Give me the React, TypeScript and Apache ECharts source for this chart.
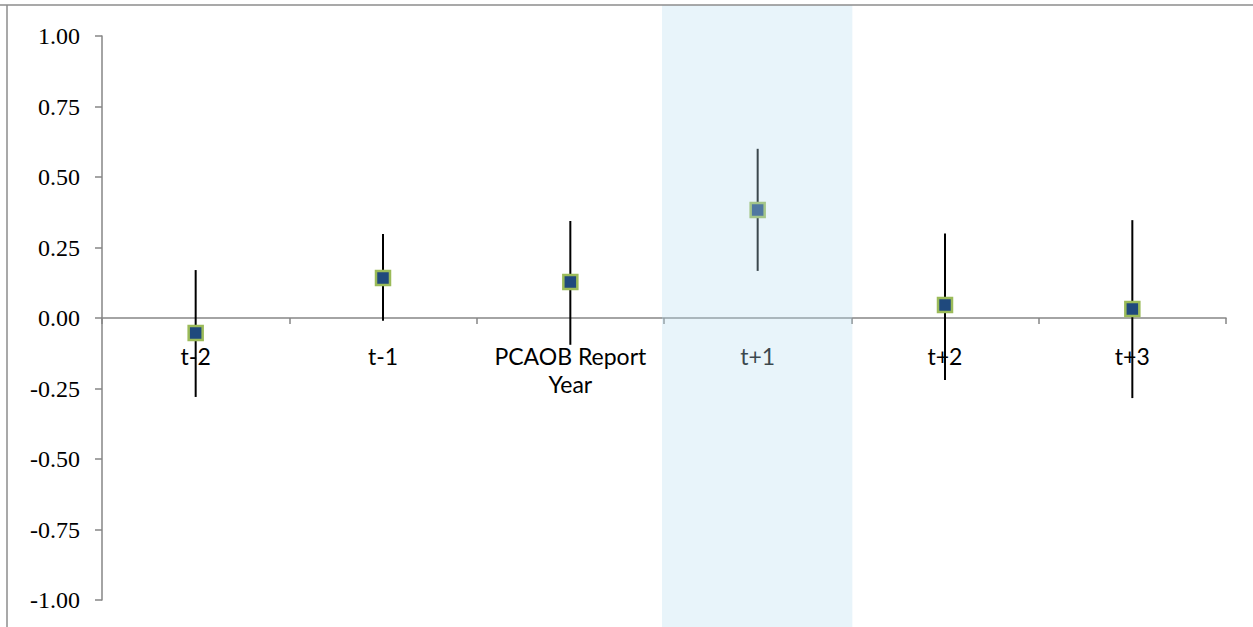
import React, { useEffect, useRef } from "react";
import * as echarts from "echarts";

const categories = ["t-2", "t-1", "PCAOB Report\nYear", "t+1", "t+2", "t+3"];
const pointValues = [-0.053, 0.142, 0.128, 0.383, 0.046, 0.032];
const lowValues = [-0.28, -0.01, -0.095, 0.167, -0.22, -0.284];
const highValues = [0.17, 0.298, 0.344, 0.6, 0.3, 0.347];
const shadedCategoryIndex = 3;

export default function App() {
  const ref = useRef<HTMLDivElement>(null);
  useEffect(() => {
    if (!ref.current) return;
    const chart = echarts.init(ref.current, null, { renderer: "svg" });
    const axisGray = "#868686";
    chart.setOption({
      animation: false,
      grid: { left: 102, right: 27, top: 36, bottom: 27, containLabel: false, outerBoundsMode: "none" },
      xAxis: {
        type: "category",
        data: categories,
        boundaryGap: true,
        axisLine: { onZero: true, lineStyle: { color: axisGray, width: 1.5 } },
        axisTick: { show: true, length: 6, alignWithLabel: false, lineStyle: { color: axisGray, width: 1.5 } },
        axisLabel: { show: false },
        splitLine: { show: false },
      },
      yAxis: {
        type: "value",
        min: -1,
        max: 1,
        interval: 0.25,
        axisLine: { show: true, lineStyle: { color: axisGray, width: 1.5 } },
        axisTick: { show: true, length: 7, lineStyle: { color: axisGray, width: 1.5 } },
        splitLine: { show: false },
        axisLabel: {
          margin: 22,
          color: "#000",
          fontFamily: "Liberation Serif",
          fontSize: 24,
          formatter: (v: number) => v.toFixed(2),
        },
      },
      series: [
        {
          type: "custom",
          z: 1,
          silent: true,
          data: categories.map((_, i) => [i, 0]),
          renderItem: (params: any, api: any) => {
            const p = api.coord([api.value(0), api.value(1)]);
            return {
              type: "text",
              x: p[0],
              y: p[1] + 24,
              style: {
                text: categories[params.dataIndex],
                textAlign: "center",
                textVerticalAlign: "top",
                fill: "#000",
                fontFamily: "Lato",
                fontSize: 23,
                lineHeight: 28,
              },
            };
          },
        },
        {
          type: "custom",
          z: 3,
          data: categories.map((_, i) => [i, lowValues[i], highValues[i]]),
          renderItem: (params: any, api: any) => {
            const p1 = api.coord([api.value(0), api.value(1)]);
            const p2 = api.coord([api.value(0), api.value(2)]);
            return {
              type: "line",
              shape: { x1: p1[0], y1: p1[1], x2: p2[0], y2: p2[1] },
              style: { stroke: "#000", lineWidth: 2 },
            };
          },
        },
        {
          type: "scatter",
          z: 5,
          symbol: "rect",
          symbolSize: 14,
          data: categories.map((_, i) => [i, pointValues[i]]),
          itemStyle: { color: "#1f497d", borderColor: "#9bbb59", borderWidth: 2.5, opacity: 1 },
        },
      ],
    });

    const c0 = chart.convertToPixel({ xAxisIndex: 0 }, shadedCategoryIndex) as number;
    const c1 = chart.convertToPixel({ xAxisIndex: 0 }, shadedCategoryIndex + 1) as number;
    const half = (c1 - c0) / 2;
    chart.setOption({
      graphic: [
        {
          type: "rect",
          z: 100,
          silent: true,
          shape: { x: c0 - half - 2, y: 5, width: 2 * half + 3, height: 627 },
          style: { fill: "rgba(182,220,239,0.32)" },
        },
        {
          type: "line",
          z: 101,
          silent: true,
          shape: { x1: 0, y1: 5, x2: 1253, y2: 5 },
          style: { stroke: "#8c8c8c", lineWidth: 1.5 },
        },
        {
          type: "line",
          z: 101,
          silent: true,
          shape: { x1: 7, y1: 5, x2: 7, y2: 627 },
          style: { stroke: "#8c8c8c", lineWidth: 1.5 },
        },
      ],
    });
    return () => chart.dispose();
  }, []);
  return (
    <div
      ref={ref}
      style={{ position: "absolute", left: 0, top: 0, width: 1253, height: 627, background: "#fff" }}
    />
  );
}
